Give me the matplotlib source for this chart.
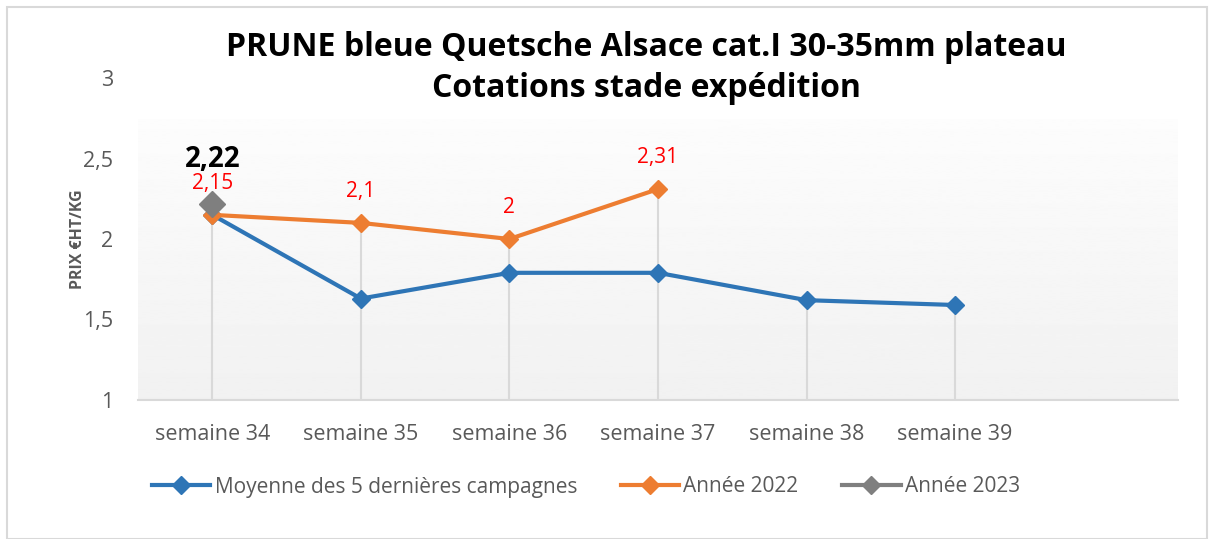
import numpy as np
import matplotlib
matplotlib.use("Agg")
import matplotlib.pyplot as plt
from matplotlib.patches import Rectangle
from matplotlib.lines import Line2D

plt.rcParams["font.family"] = ["Open Sans", "DejaVu Sans"]

weeks = ["semaine 34", "semaine 35", "semaine 36", "semaine 37", "semaine 38", "semaine 39"]
moyenne = [2.15, 1.63, 1.79, 1.79, 1.62, 1.59]
annee_2022 = [2.15, 2.10, 2.00, 2.31]
annee_2023 = [2.22]
labels_2022 = ["2,15", "2,1", "2", "2,31"]
labels_2023 = ["2,22"]

C_BLUE = "#2e75b6"
C_ORANGE = "#ed7d31"
C_GREY = "#7f7f7f"
TXT = "#595959"

fig = plt.figure(figsize=(12.12, 5.39), dpi=100)
ax = fig.add_axes([138 / 1212, 139 / 539, 1040 / 1212, 322 / 539])

# faint gradient background of the plot area
grad = np.linspace(0.945, 0.99, 256).reshape(-1, 1)
ax.imshow(grad, cmap="gray", vmin=0, vmax=1, aspect="auto",
          extent=(-0.5, 6.5, 1, 2.74), origin="lower", zorder=0)

x_all = np.arange(len(weeks))

# drop lines from the top point of each category
tops = []
for i in range(len(weeks)):
    vals = [moyenne[i]]
    if i < len(annee_2022):
        vals.append(annee_2022[i])
    if i < len(annee_2023):
        vals.append(annee_2023[i])
    tops.append(max(vals))
ax.vlines(x_all, 1, tops, color="#d9d9d9", linewidth=1.5, zorder=1)

ax.plot(x_all, moyenne, color=C_BLUE, marker="D", markersize=9, linewidth=3,
        zorder=3)
ax.plot(x_all[:len(annee_2022)], annee_2022, color=C_ORANGE, marker="D",
        markersize=9, linewidth=3, zorder=4)
ax.plot(x_all[:len(annee_2023)], annee_2023, color=C_GREY, marker="D",
        markersize=13, linewidth=3, zorder=5)

for i, (v, lab) in enumerate(zip(annee_2022, labels_2022)):
    ax.annotate(lab, (i, v), xytext=(0, 22.5), textcoords="offset points",
                ha="center", va="center", color="red", fontsize=15, zorder=6)
for i, (v, lab) in enumerate(zip(annee_2023, labels_2023)):
    ax.annotate(lab, (i, v), xytext=(0, 32), textcoords="offset points",
                ha="center", va="center", color="black", fontsize=20,
                fontweight="bold", zorder=6)

ax.set_xlim(-0.5, 6.5)
ax.set_ylim(1, 3)
ax.set_xticks(x_all)
ax.set_xticklabels(weeks, fontsize=15.5, color=TXT)
ax.set_yticks([1, 1.5, 2, 2.5, 3])
ax.set_yticklabels(["1", "1,5", "2", "2,5", "3"], fontsize=15.5, color=TXT)
ax.tick_params(axis="x", length=0, pad=17)
ax.tick_params(axis="y", length=0, pad=18)
for s in ["top", "right", "left"]:
    ax.spines[s].set_visible(False)
ax.spines["bottom"].set_color("#d9d9d9")
ax.spines["bottom"].set_linewidth(1.5)
ax.set_ylabel("PRIX €HT/KG", fontsize=11.5, fontweight="bold", color=TXT)
ax.yaxis.set_label_coords(-(138 - 86) / 1040, 0.5)

fig.text(646 / 1212, 1 - 68 / 539,
         "PRUNE bleue Quetsche Alsace cat.I 30-35mm plateau\nCotations stade expédition",
         ha="center", va="center", fontsize=23, fontweight="bold",
         linespacing=1.35)

handles = [
    Line2D([], [], color=C_BLUE, marker="D", markersize=9, linewidth=3),
    Line2D([], [], color=C_ORANGE, marker="D", markersize=9, linewidth=3),
    Line2D([], [], color=C_GREY, marker="D", markersize=9, linewidth=3),
]
names = ["Moyenne des 5 dernières campagnes", "Année 2022", "Année 2023"]
fig.legend(handles, names, loc="center", bbox_to_anchor=(586 / 1212, 1 - 487 / 539),
           ncol=3, frameon=False, fontsize=15, labelcolor=TXT,
           handlelength=2.8, handletextpad=0.2, columnspacing=2.1)

fig.patches.append(Rectangle((7 / 1212, 0), 1200 / 1212, 1 - 7 / 539,
                             transform=fig.transFigure, fill=False,
                             edgecolor="#d9d9d9", linewidth=1.5))

fig.savefig("out.png", dpi=100)
